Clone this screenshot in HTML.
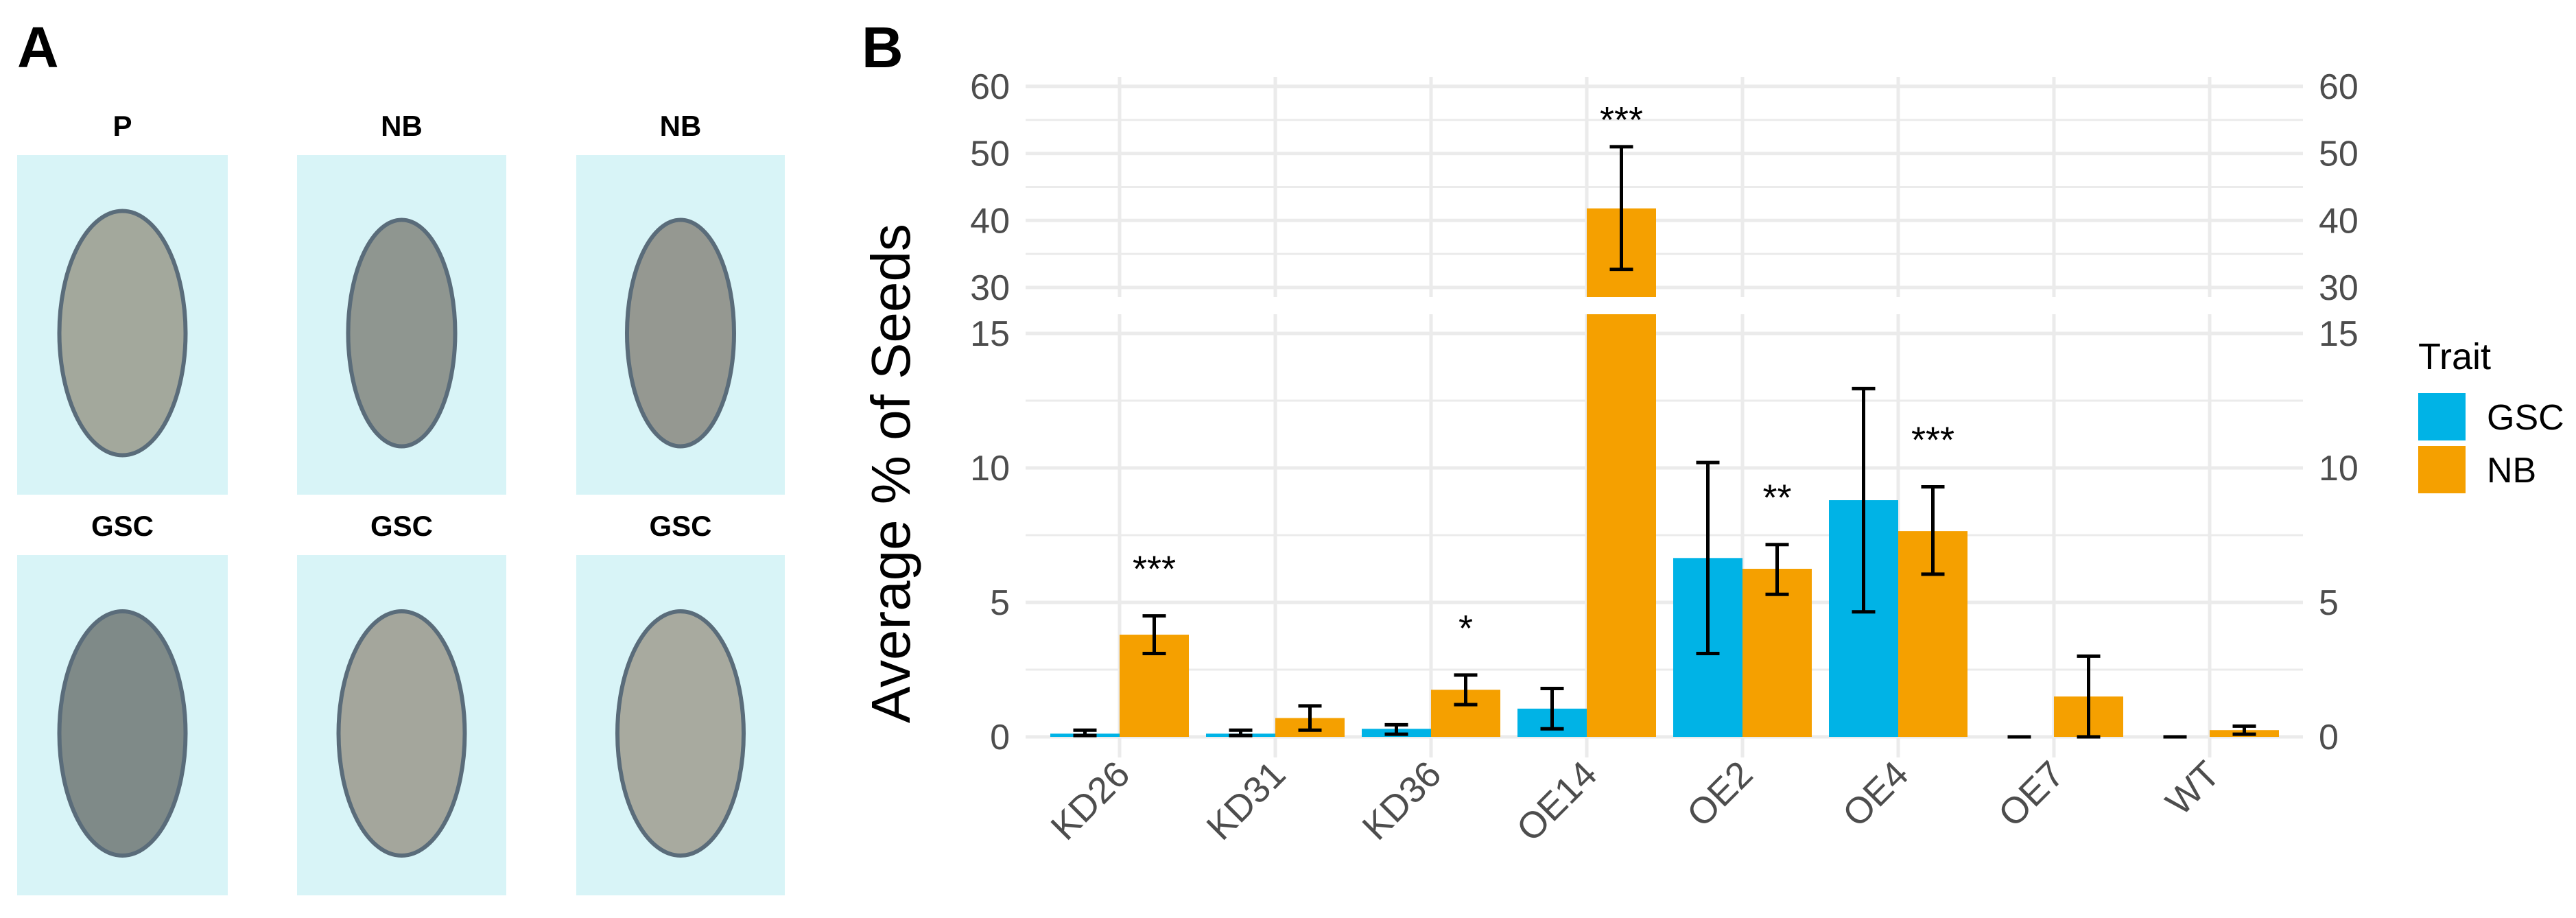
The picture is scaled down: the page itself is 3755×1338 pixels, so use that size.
<!DOCTYPE html>
<html><head><meta charset="utf-8"><style>
body{margin:0;background:#fff;}
svg{display:block;font-family:"Liberation Sans",sans-serif;}
</style></head><body>
<svg id="fig" width="3755" height="1338" viewBox="0 0 3755 1338" xmlns="http://www.w3.org/2000/svg">
<rect width="3755" height="1338" fill="#fff"/>
<text x="25" y="98" font-size="84" font-weight="bold">A</text>
<text x="1256" y="98" font-size="84" font-weight="bold">B</text>
<g id="photos"></g>
<g id="chart"></g>
</svg>
<script>
// ---- chart data ----
const categories = ["KD26","KD31","KD36","OE14","OE2","OE4","OE7","WT"];
const gscValues = [0.12,0.12,0.3,1.05,6.65,8.8,0,0];
const gscLow    = [0.05,0.05,0.1,0.3,3.1,4.65,0,0];
const gscHigh   = [0.25,0.25,0.45,1.8,10.2,12.95,0,0];
const nbValues  = [3.8,0.7,1.75,41.8,6.25,7.65,1.5,0.25];
const nbLow     = [3.1,0.25,1.2,32.7,5.3,6.05,0,0.1];
const nbHigh    = [4.5,1.15,2.3,51,7.15,9.3,3.0,0.4];
const nbStars   = ["***","","*","***","**","***","",""];
const lowerTicks = [0,5,10,15];
const upperTicks = [30,40,50,60];
const traits = ["GSC","NB"];

const NS="http://www.w3.org/2000/svg";
const chart=document.getElementById('chart');
function mk(tag,attrs,parent){const e=document.createElementNS(NS,tag);for(const k in attrs)e.setAttribute(k,attrs[k]);(parent||chart).appendChild(e);return e;}
const X0=1495,X1=3357,step=227,firstC=1632;
const xC=i=>firstC+i*step;
const yLow=v=>1074-v*39.2;          // lower panel 0..15
const yUp=v=>419-(v-30)*9.77;        // upper panel 30..60
const LTOP=458,LBOT=1104,UTOP=112,UBOT=433;
const colors={GSC:"#00b3e6",NB:"#f5a000"};

// grid
function hgrid(y,major,name){const l=mk('line',{x1:X0,x2:X1,y1:y,y2:y,stroke:'#ebebeb','stroke-width':major?5:3});

}
[2.5,7.5,12.5].forEach(v=>hgrid(yLow(v),false,'minor-gridline'));
lowerTicks.forEach(v=>hgrid(yLow(v),true,'major-gridline'));
[35,45,55].forEach(v=>hgrid(yUp(v),false,'minor-gridline'));
upperTicks.forEach(v=>hgrid(yUp(v),true,'major-gridline'));
categories.forEach((c,i)=>{
  [[LTOP,LBOT],[UTOP,UBOT]].forEach(r=>{const l=mk('line',{x1:xC(i),x2:xC(i),y1:r[0],y2:r[1],stroke:'#ebebeb','stroke-width':5});
  
  });
});
// ticks
function tick(y,v,name){
  const a=mk('text',{x:1472,y:y+18,'text-anchor':'end','font-size':52,fill:'#4d4d4d'});a.textContent=v;
  
  
  const b=mk('text',{x:3380,y:y+18,'text-anchor':'start','font-size':52,fill:'#4d4d4d'});b.textContent=v;
  
  
}
lowerTicks.forEach(v=>tick(yLow(v),v,'y-tick-'+v));
upperTicks.forEach(v=>tick(yUp(v),v,'y-tick-'+v));
// bars
const bw=101;
function errbar(x,lo,hi,name){
  const g=mk('g',{stroke:'#000','stroke-width':5});
  
  
  const seg=(lv,hv)=>{
    const [ylo,yhi]=lv>=30?[yUp(lo),yUp(hi)]:[yLow(lo),yLow(hi)];
    mk('line',{x1:x,x2:x,y1:ylo,y2:yhi},g);
    mk('line',{x1:x-17,x2:x+17,y1:ylo,y2:ylo},g);
    mk('line',{x1:x-17,x2:x+17,y1:yhi,y2:yhi},g);
  };
  seg(lo,hi);
}
function bar(x,v,color,name){
  if(v>15){
    const r1=mk('rect',{x:x,y:LTOP,width:bw,height:yLow(0)-LTOP,fill:color});
    
    
    const r2=mk('rect',{x:x,y:yUp(v),width:bw,height:UBOT-yUp(v),fill:color});
    
    
  } else {
    const h=Math.max(yLow(0)-yLow(v),0);
    const r=mk('rect',{x:x,y:yLow(v),width:bw,height:h,fill:color});
    
    
  }
}
categories.forEach((c,i)=>{
  const gx=xC(i)-bw, nx=xC(i);
  bar(gx,gscValues[i],colors.GSC,'bar-gsc-'+c.toLowerCase());
  bar(nx,nbValues[i],colors.NB,'bar-nb-'+c.toLowerCase());
  errbar(gx+bw/2,gscLow[i],gscHigh[i],'errorbar-gsc-'+c.toLowerCase());
  errbar(nx+bw/2,nbLow[i],nbHigh[i],'errorbar-nb-'+c.toLowerCase());
  if(nbStars[i]){
    const y=nbHigh[i]>=30?yUp(nbHigh[i])-21:yLow(nbHigh[i])-50;
    const t=mk('text',{x:nx+bw/2,y:y,'text-anchor':'middle','font-size':54,fill:'#000'});t.textContent=nbStars[i];
    
    
  }
  const lx=xC(i)+18, ly=1132;
  const t=mk('text',{x:lx,y:ly,'text-anchor':'end','font-size':54,fill:'#4d4d4d',transform:`rotate(-45 ${lx} ${ly})`});t.textContent=c;
  
  
});
// axis title
const yt=mk('text',{x:1326,y:690,'text-anchor':'middle','font-size':80,fill:'#000',transform:'rotate(-90 1326 690)'});
yt.textContent='Average % of Seeds';


// legend
const lt=mk('text',{x:3525,y:538,'font-size':54,fill:'#000'});lt.textContent='Trait';


traits.forEach((tr,k)=>{
  const y=573+k*77;
  const r=mk('rect',{x:3525,y:y,width:69,height:69,fill:colors[tr]});
  
  
  const t=mk('text',{x:3625,y:y+53,'font-size':52,fill:'#000'});t.textContent=tr;
  
  
});

// ---- photo panel A ----
const ph=document.getElementById('photos');
const cols=[[25,332],[433,738],[840,1144]];
const rows=[[226,721],[809,1305]];
const labels=[["P","NB","NB"],["GSC","GSC","GSC"]];
const seedFill=[["#a3a89c","#8f9690","#959891"],["#7f8a88","#a4a69c","#a8aa9f"]];
rows.forEach((r,ri)=>cols.forEach((c,ci)=>{
  const rect=mk('rect',{x:c[0],y:r[0],width:c[1]-c[0],height:r[1]-r[0],fill:'#d8f4f7'},ph);
  
  
  const cx=(c[0]+c[1])/2, cy=(r[0]+r[1])/2+12;
  const rx=ri===0&&ci>0?78:92, ry=ri===0&&ci>0?165:178;
  const e=mk('ellipse',{cx:cx,cy:cy,rx:rx,ry:ry,fill:seedFill[ri][ci],stroke:'#5a6c7a','stroke-width':6},ph);
  
  
  const t=mk('text',{x:cx,y:r[0]-28,'text-anchor':'middle','font-size':42,'font-weight':'bold',fill:'#000'},ph);
  t.textContent=labels[ri][ci];
  
  
}));
</script>
</body></html>
